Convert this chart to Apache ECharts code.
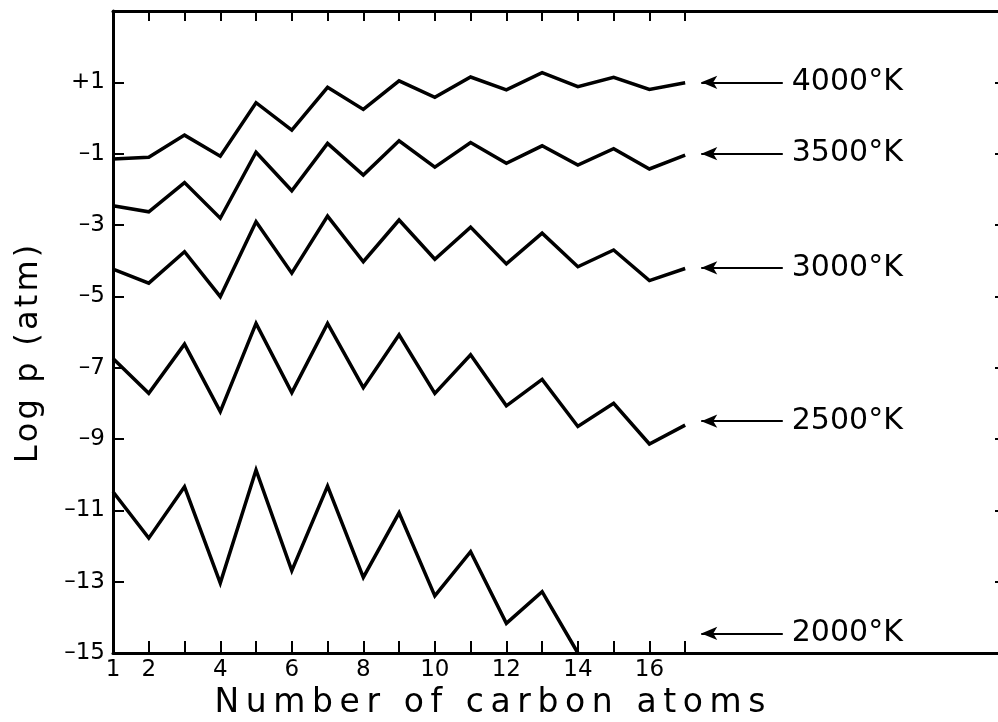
<!DOCTYPE html>
<html>
<head>
<meta charset="utf-8">
<title>Log p vs number of carbon atoms</title>
<script src="https://cdn.jsdelivr.net/npm/echarts@6/dist/echarts.min.js"></script>
<style>
    html, body {margin: 0; padding: 0; background: #fff;}
    #chart {width: 998px; height: 722px;}
</style>
</head>
<body>
<div id="chart"></div>
<script>
    // number of carbon atoms (x)
    const carbonAtoms = [1, 2, 3, 4, 5, 6, 7, 8, 9, 10, 11, 12, 13, 14, 15, 16, 17];
    const xTickValues = [1, 2, 3, 4, 5, 6, 7, 8, 9, 10, 11, 12, 13, 14, 15, 16, 17];
    const xLabelValues = [1, 2, 4, 6, 8, 10, 12, 14, 16];
    const yTickValues = [-15, -13, -11, -9, -7, -5, -3, -1, 1];

    // log p (atm) for each temperature
    const logP4000 = [-1.15, -1.1, -0.48, -1.07, 0.43, -0.34, 0.86, 0.24, 1.04, 0.58, 1.15, 0.79, 1.27, 0.88, 1.14, 0.80, 0.99];
    const logP3500 = [-2.46, -2.63, -1.81, -2.81, -0.96, -2.04, -0.71, -1.60, -0.64, -1.38, -0.69, -1.27, -0.78, -1.32, -0.86, -1.43, -1.04];
    const logP3000 = [-4.24, -4.63, -3.75, -5.01, -2.91, -4.35, -2.75, -4.03, -2.86, -3.96, -3.06, -4.09, -3.23, -4.17, -3.70, -4.56, -4.22];
    const logP2500 = [-6.74, -7.72, -6.34, -8.23, -5.76, -7.70, -5.76, -7.56, -6.08, -7.72, -6.64, -8.07, -7.33, -8.65, -8.0, -9.14, -8.61];
    const logP2000 = [-10.48, -11.78, -10.34, -13.04, -9.87, -12.69, -10.32, -12.88, -11.07, -13.40, -12.16, -14.17, -13.28, -15.0];

    const temperatures = ['4000°K', '3500°K', '3000°K', '2500°K', '2000°K'];
    const arrowLevels = [1.0, -1.0, -4.2, -8.5, -14.45];

    const FONT = 'DejaVu Sans';
    // arrow runs from x=17.45 to x=19.73, label right after it
    const ARROW_FROM = 17.45, ARROW_TO = 19.73;

    // spread the letters a bit, like the lettering on the original
    function spaced(s, sp) {
        return s.split('').join(sp);
    }

    function fmtY(v) {
        if (v > 0) return '+' + v;
        if (v < 0) return '\u2013' + Math.abs(v);
        return '0';
    }

    const allSeries = [logP4000, logP3500, logP3000, logP2500, logP2000];

    let series = allSeries.map((vals, i) => ({
        name: temperatures[i],
        type: 'line',
        showSymbol: false,
        silent: true,
        lineStyle: {color: '#000', width: 3.5, join: 'miter'},
        data: vals.map((v, j) => [carbonAtoms[j], v]),
        markLine: {
            silent: true,
            symbol: ['arrow', 'none'],
            symbolSize: [10, 16],
            lineStyle: {color: '#000', width: 2, type: 'solid'},
            label: {
                show: true,
                position: 'end',
                distance: 9,
                formatter: temperatures[i],
                color: '#000',
                fontFamily: FONT,
                fontSize: 30
            },
            data: [[
                {coord: [ARROW_FROM, arrowLevels[i]]},
                {coord: [ARROW_TO, arrowLevels[i]]}
            ]]
        }
    }));

    const axisLineStyle = {onZero: false, lineStyle: {color: '#000', width: 3}};
    const tickStyle = {color: '#000', width: 2};

    var myChart = echarts.init(document.getElementById('chart'));
    myChart.setOption({
        animation: false,
        backgroundColor: '#fff',
        // the right border of the original runs just past the edge of the picture
        grid: {left: 113, top: 11, width: 894, bottom: 69, containLabel: false, outerBoundsMode: 'none'},
        xAxis: [{
            type: 'value',
            position: 'bottom',
            min: 1,
            max: 26,
            name: spaced('Number of carbon atoms', '\u2009'),
            nameLocation: 'middle',
            nameGap: 27,
            nameTextStyle: {
                color: '#000', fontFamily: FONT, fontSize: 33,
                padding: [0, 140, 0, 0]
            },
            axisLine: axisLineStyle,
            axisTick: {inside: true, length: 12, lineStyle: tickStyle, customValues: xTickValues},
            axisLabel: {customValues: xLabelValues, color: '#000', fontFamily: FONT, fontSize: 23, margin: 6},
            splitLine: {show: false}
        }, {
            type: 'value',
            position: 'top',
            min: 1,
            max: 26,
            axisLine: axisLineStyle,
            axisTick: {inside: true, length: 10, lineStyle: tickStyle, customValues: xTickValues},
            axisLabel: {show: false},
            splitLine: {show: false}
        }],
        yAxis: [{
            type: 'value',
            position: 'left',
            min: -15,
            max: 3,
            name: spaced('Log p (atm)', '\u200A'),
            nameLocation: 'middle',
            nameGap: 68,
            nameTextStyle: {
                color: '#000', fontFamily: FONT, fontSize: 32,
                padding: [0, 44, 0, 0]
            },
            axisLine: axisLineStyle,
            axisTick: {inside: true, length: 11, lineStyle: tickStyle, customValues: yTickValues},
            axisLabel: {customValues: yTickValues, formatter: fmtY, color: '#000', fontFamily: FONT, fontSize: 23, margin: 8},
            splitLine: {show: false}
        }, {
            type: 'value',
            position: 'right',
            min: -15,
            max: 3,
            axisLine: axisLineStyle,
            axisTick: {inside: true, length: 12, lineStyle: tickStyle, customValues: yTickValues},
            axisLabel: {show: false},
            splitLine: {show: false}
        }],
        series: series
    });
</script>
</body>
</html>
